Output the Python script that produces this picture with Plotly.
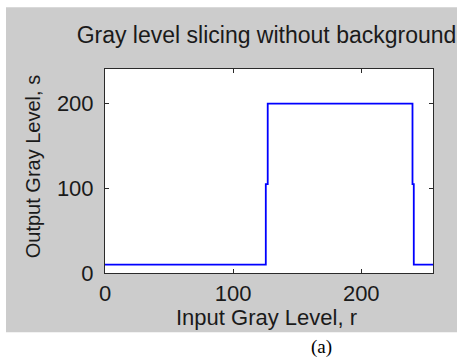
import plotly.graph_objects as go

# Data: gray level slicing transformation (input r -> output s)
r_values = [0, 125.5, 125.5, 127, 127, 240, 240, 241, 241, 256]
s_values = [10, 10, 105, 105, 200, 200, 105, 105, 10, 10]

x_ticks = [0, 100, 200]
y_ticks = [0, 100, 200]

title_text = "Gray level slicing without background"
x_title = "Input Gray Level, r"
y_title = "Output Gray Level, s"
caption = "(a)"

W, H = 457, 362
L, R, T, B = 105, 433, 69, 273.5
pw, ph = R - L, B - T

def px(x):
    return (x - L) / pw

def py(y):
    return (B - y) / ph

font_sans = "Liberation Sans, Arial, sans-serif"
txt_color = "#1a1a1a"

fig = go.Figure()
fig.add_trace(go.Scatter(
    x=r_values, y=s_values, mode="lines",
    line=dict(color="#0000ff", width=1.8),
    hoverinfo="skip", showlegend=False,
))

axis_common = dict(
    showgrid=False, zeroline=False,
    showline=True, mirror="ticks", linecolor="#2a2a2a", linewidth=1,
    ticks="inside", ticklen=4, tickwidth=1, tickcolor="#2a2a2a",
    tickfont=dict(family=font_sans, size=22, color=txt_color),
)

fig.update_layout(
    width=W, height=H,
    margin=dict(l=L, r=W - R, t=T, b=H - B, pad=0),
    paper_bgcolor="white",
    plot_bgcolor="white",
    xaxis=dict(range=[0, 256], tickvals=x_ticks, ticklabelstandoff=1, **axis_common),
    yaxis=dict(range=[0, 241], tickvals=y_ticks, ticklabelstandoff=6, **axis_common),
    title=dict(
        text=title_text, x=px(266.5), xref="paper", xanchor="center",
        y=1 - 35 / H, yref="container", yanchor="middle",
        font=dict(family=font_sans, size=23, color=txt_color),
    ),
    shapes=[
        dict(type="rect", xref="paper", yref="paper",
             x0=px(6), x1=px(457), y0=py(333), y1=py(7),
             fillcolor="#cccccc", line=dict(width=0), layer="below"),
        dict(type="rect", xref="paper", yref="paper",
             x0=0, x1=1, y0=0, y1=1,
             fillcolor="white", line=dict(width=0), layer="below"),
    ],
    annotations=[
        dict(text=x_title, xref="paper", yref="paper", x=px(266), y=py(318),
             xanchor="center", yanchor="middle", showarrow=False,
             font=dict(family=font_sans, size=22, color=txt_color)),
        dict(text=y_title, xref="paper", yref="paper", x=px(33), y=py(167.5),
             xanchor="center", yanchor="middle", showarrow=False, textangle=-90,
             font=dict(family=font_sans, size=20, color=txt_color)),
        dict(text=caption, xref="paper", yref="paper", x=px(321), y=py(348),
             xanchor="center", yanchor="middle", showarrow=False,
             font=dict(family="Liberation Serif, Times New Roman, serif", size=19, color="#000000")),
    ],
)

fig.write_html("out.html")
